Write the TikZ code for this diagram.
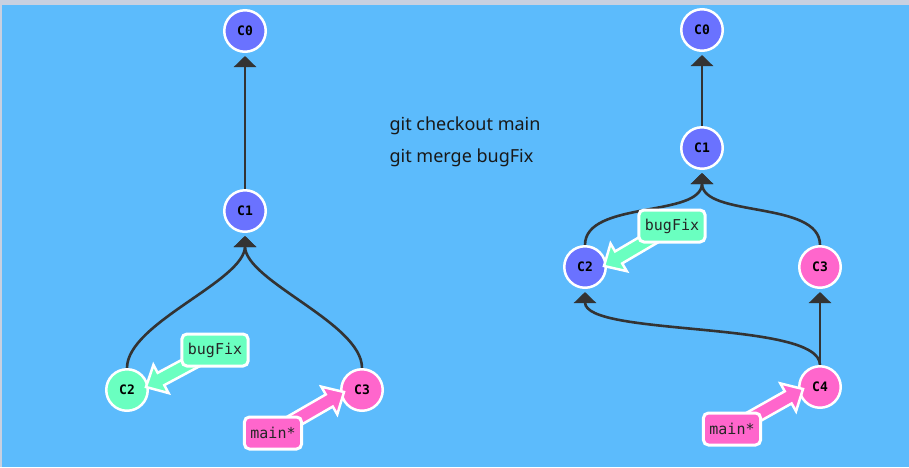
\documentclass[tikz,border=0pt]{standalone}
\usepackage{fontspec}
\setmainfont{Noto Sans}
\newfontfamily\monof{DejaVu Sans Mono}
\usetikzlibrary{calc,arrows.meta}
\pgfdeclarelayer{back}
\pgfdeclarelayer{edges}
\pgfsetlayers{back,edges,main}
\definecolor{bgblue}{HTML}{5CBBFC}
\definecolor{framec}{HTML}{C8D0E0}
\definecolor{cblue}{HTML}{6A72FF}
\definecolor{cgreen}{HTML}{6AFFC0}
\definecolor{cpink}{HTML}{FF66CC}
\definecolor{edgec}{HTML}{333333}
\newcommand{\fatarrow}[3]{%
  \coordinate (fah) at ($(#2)!17pt!(#1)$);
  \filldraw[draw=white, line width=2.5pt, fill=#3, line join=miter]
    ($(#1)!7pt!90:(#2)$) -- ($(fah)!7pt!90:(#2)$) -- ($(fah)!16pt!90:(#2)$)
    -- (#2) -- ($(fah)!16pt!-90:(#2)$) -- ($(fah)!7pt!-90:(#2)$)
    -- ($(#1)!7pt!-90:(#2)$) -- cycle;
}
\begin{document}
\begin{tikzpicture}[x=1pt,y=-1pt,
  commit/.style={circle, draw=white, line width=2.5pt, minimum size=41.5pt, inner sep=0pt,
    font=\monof\bfseries\fontsize{13}{15}\selectfont},
  blabel/.style={draw=white, line width=3pt, rounded corners=5pt, inner xsep=6pt,
    minimum height=32pt, font=\monof\fontsize{15}{18}\selectfont, text=black!85},
  edge/.style={draw=edgec, line width=2.6pt, -{Triangle[width=22pt,length=11pt]}, shorten >=3pt},
  cmd/.style={anchor=base west, font=\fontsize{18}{20}\selectfont, text=black!90}]
\useasboundingbox (0,0) rectangle (909,467);
\begin{pgfonlayer}{back}
  \fill[framec] (0,0) rectangle (909,467);
  \fill[bgblue] (2,5) rectangle (909,467);
\end{pgfonlayer}

% left graph
\node[commit, fill=cblue] (L0) at (245,31) {C0};
\node[commit, fill=cblue] (L1) at (245,211) {C1};
\node[commit, fill=cgreen] (L2) at (127,390) {C2};
\node[commit, fill=cpink] (L3) at (362,390) {C3};

% right graph
\node[commit, fill=cblue] (R0) at (702,30) {C0};
\node[commit, fill=cblue] (R1) at (702,148) {C1};
\node[commit, fill=cblue] (R2) at (585,267) {C2};
\node[commit, fill=cpink] (R3) at (820,267) {C3};
\node[commit, fill=cpink] (R4) at (820,387) {C4};

\begin{pgfonlayer}{edges}
  \draw[edge] (L1.north) -- (L0.south);
  \draw[edge] (L2.north) .. controls +(0,-45) and +(0,48) .. (L1.south);
  \draw[edge] (L3.north) .. controls +(0,-45) and +(0,48) .. (L1.south);
  \draw[edge] (R1.north) -- (R0.south);
  \draw[edge] (R2.north) .. controls +(0,-45) and +(0,48) .. (R1.south);
  \draw[edge] (R3.north) .. controls +(0,-45) and +(0,48) .. (R1.south);
  \draw[edge] (R4.north) -- (R3.south);
  \draw[edge] (R4.north) .. controls +(0,-45) and +(0,48) .. (R2.south);
\end{pgfonlayer}

% branch labels
\coordinate (bfLc) at (215,350);
\coordinate (bfLt) at (146,387);
\fatarrow{bfLc}{bfLt}{cgreen}
\node[blabel, fill=cgreen] (bugL) at (bfLc) {bugFix};

\coordinate (mLc) at (273,433);
\coordinate (mLt) at (344,392);
\fatarrow{mLc}{mLt}{cpink}
\node[blabel, fill=cpink] (mainL) at (mLc) {main*};

\coordinate (bfRc) at (672,226);
\coordinate (bfRt) at (604,266);
\fatarrow{bfRc}{bfRt}{cgreen}
\node[blabel, fill=cgreen] (bugR) at (bfRc) {bugFix};

\coordinate (mRc) at (732,429);
\coordinate (mRt) at (803,389);
\fatarrow{mRc}{mRt}{cpink}
\node[blabel, fill=cpink] (mainR) at (mRc) {main*};

% commands
\node[cmd] (t1) at (386,130.5) {git checkout main};
\node[cmd] (t2) at (386,162.5) {git merge bugFix};
\end{tikzpicture}
\end{document}
